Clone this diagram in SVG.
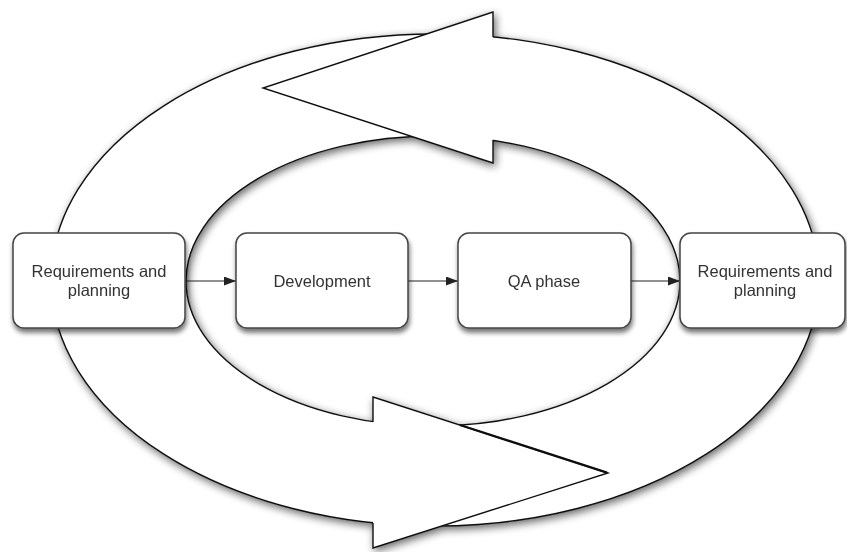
<svg xmlns="http://www.w3.org/2000/svg" width="847" height="552" viewBox="0 0 847 552">
  <defs>
    <filter id="shadow" x="-5%" y="-5%" width="112%" height="115%">
      <feGaussianBlur in="SourceAlpha" stdDeviation="4"/>
      <feOffset dx="2" dy="3" result="b"/>
      <feComponentTransfer><feFuncA type="linear" slope="0.6"/></feComponentTransfer>
      <feMerge><feMergeNode/><feMergeNode in="SourceGraphic"/></feMerge>
    </filter>
    <filter id="nshadow" x="-10%" y="-10%" width="125%" height="135%">
      <feGaussianBlur in="SourceAlpha" stdDeviation="2.5"/>
      <feOffset dx="1" dy="4" result="b"/>
      <feComponentTransfer><feFuncA type="linear" slope="0.55"/></feComponentTransfer>
      <feMerge><feMergeNode/><feMergeNode in="SourceGraphic"/></feMerge>
    </filter>
    <marker id="arr" viewBox="0 0 12 9" refX="12" refY="4.5" markerWidth="12" markerHeight="9" markerUnits="userSpaceOnUse" orient="auto">
      <path d="M0,0 L12,4.5 L0,9 Z" fill="#222"/>
    </marker>
  </defs>
  <style>
    .ring { fill: #fff; stroke: #111; stroke-width: 1.4; fill-rule: evenodd; }
    .head { fill: #fff; stroke: #111; stroke-width: 1.4; stroke-linejoin: miter; }
    .node rect { fill: #fff; stroke: #444; stroke-width: 1.5; }
    .node text { font-family: "Liberation Sans", Arial, sans-serif; font-size: 16.5px; fill: #333; text-anchor: middle; }
    .conn line { stroke: #222; stroke-width: 1.2; marker-end: url(#arr); }
  </style>
  <rect width="847" height="552" fill="#fff"/>
  <g id="cycle" filter="url(#shadow)">
    <path class="ring" d="M51,280 A384,246 0 1,0 819,280 A384,246 0 1,0 51,280 Z M186,281 A247,145 0 1,0 680,281 A247,145 0 1,0 186,281 Z"/>
    <path id="top-arrow-head" class="head" d="M493,37 L493,12 L263,88 L493,163 L493,140"/>
    <path id="bottom-arrow-head" class="head" d="M373,422 L373,397 L608,473 L373,548 L373,523"/>
    <line x1="460" y1="425" x2="607" y2="472.6" stroke="#111" stroke-width="2.3"/>
  </g>
  <g id="connectors" class="conn">
    <line x1="185" y1="281" x2="236" y2="281"/>
    <line x1="408" y1="281" x2="458" y2="281"/>
    <line x1="631" y1="281" x2="680" y2="281"/>
  </g>
  <g id="node-req1" class="node" filter="url(#nshadow)">
    <rect x="13" y="233" width="172" height="95" rx="11"/>
    <text x="99" y="277">Requirements and</text>
    <text x="99" y="296">planning</text>
  </g>
  <g id="node-dev" class="node" filter="url(#nshadow)">
    <rect x="236" y="233" width="172" height="95" rx="11"/>
    <text x="322" y="287">Development</text>
  </g>
  <g id="node-qa" class="node" filter="url(#nshadow)">
    <rect x="458" y="233" width="173" height="95" rx="11"/>
    <text x="544" y="287">QA phase</text>
  </g>
  <g id="node-req2" class="node" filter="url(#nshadow)">
    <rect x="680" y="233" width="165" height="95" rx="11"/>
    <text x="765" y="277">Requirements and</text>
    <text x="765" y="296">planning</text>
  </g>
</svg>
